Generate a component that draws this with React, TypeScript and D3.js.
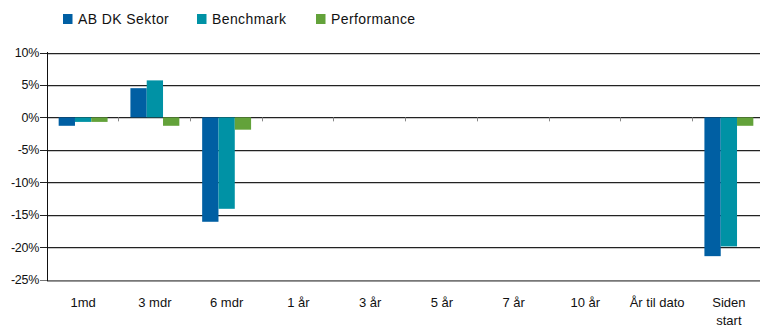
import React from 'react';
import * as d3 from 'd3';

const categories = ['1md', '3 mdr', '6 mdr', '1 år', '3 år', '5 år', '7 år', '10 år', 'År til dato', 'Siden start'];
const seriesNames = ['AB DK Sektor', 'Benchmark', 'Performance'];
const seriesColors = ['#005fa3', '#0092a5', '#63a23a'];
const sektor = [-1.3, 4.5, -16.1, 0, 0, 0, 0, 0, 0, -21.4];
const benchmark = [-0.7, 5.7, -14.1, 0, 0, 0, 0, 0, 0, -19.9];
const performance = [-0.7, -1.3, -1.9, 0, 0, 0, 0, 0, 0, -1.3];
const yTicks = [10, 5, 0, -5, -10, -15, -20, -25];

const W = 760;
const H = 328;
const font = '"Liberation Sans", Arial, sans-serif';

export default function App() {
  const values = [sektor, benchmark, performance];
  const x0 = d3.scaleBand<string>().domain(categories).range([47.25, 764.75]);
  const x1 = d3
    .scaleBand<string>()
    .domain(seriesNames)
    .range([0, x0.bandwidth()])
    .paddingOuter(0.7);
  const y = d3.scaleLinear().domain([-25, 10]).range([279.5, 52.5]);

  return (
    <svg
      width={W}
      height={H}
      style={{position: 'absolute', left: 0, top: 0, background: '#fff'}}
      fontFamily={font}>
      {/* legend */}
      {seriesNames.map((name, i) => {
        const lx = [63, 197, 316][i];
        return (
          <g key={name}>
            <rect x={lx} y={14} width={9.5} height={10} fill={seriesColors[i]} />
            <text x={lx + 15} y={24} fontSize={14} letterSpacing={0.4} fill="#111">
              {name}
            </text>
          </g>
        );
      })}

      {/* gridlines */}
      {yTicks.map(t => (
        <g key={t}>
          <line
            x1={47}
            x2={W}
            y1={Math.round(y(t)) + 1.5}
            y2={Math.round(y(t)) + 1.5}
            stroke={t === -25 ? '#999' : '#c8c8c8'}
          />
          <line
            x1={40}
            x2={W}
            y1={Math.round(y(t)) + 0.5}
            y2={Math.round(y(t)) + 0.5}
            stroke={t === -25 ? '#777' : '#222'}
          />
          <text x={39} y={y(t) + 4.5} fontSize={12.5} textAnchor="end" letterSpacing={-0.3} fill="#111">
            {t}%
          </text>
        </g>
      ))}

      {/* y axis */}
      <line x1={47.5} x2={47.5} y1={52} y2={281} stroke="#111" />

      {/* category ticks on zero line */}
      {categories.slice(1).map(c => (
        <line
          key={c}
          x1={Math.round(x0(c)!) - 0.5}
          x2={Math.round(x0(c)!) - 0.5}
          y1={y(0)}
          y2={y(0) + 4}
          stroke="#888"
        />
      ))}

      {/* bars */}
      {categories.map((c, ci) =>
        values.map((vals, si) => {
          const v = vals[ci];
          if (v === 0) return null;
          const bx = x0(c)! + x1(seriesNames[si])!;
          return (
            <rect
              key={c + si}
              x={bx}
              y={Math.min(y(v), y(0))}
              width={x1.bandwidth()}
              height={Math.abs(y(v) - y(0))}
              fill={seriesColors[si]}
            />
          );
        })
      )}

      {/* category labels */}
      {categories.map(c => {
        const cx = x0(c)! + x0.bandwidth() / 2;
        const lines = c === 'Siden start' ? ['Siden', 'start'] : [c];
        return (
          <text key={c} x={cx} y={306.5} fontSize={13} textAnchor="middle" fill="#111">
            {lines.map((l, i) => (
              <tspan key={l} x={cx} dy={i === 0 ? 0 : 18.5}>
                {l}
              </tspan>
            ))}
          </text>
        );
      })}
    </svg>
  );
}
